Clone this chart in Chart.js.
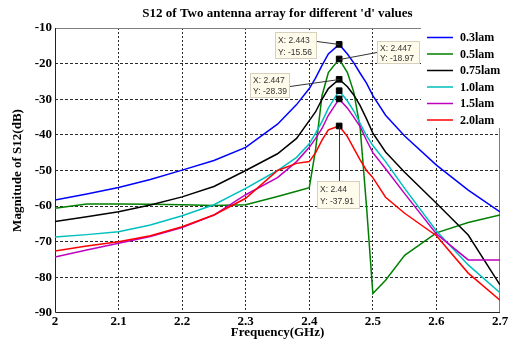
<!DOCTYPE html>
<html lang="en">
<head>
<meta charset="UTF-8">
<title>S12 of Two antenna array</title>
<script src="https://cdn.jsdelivr.net/npm/chart.js"></script>
<style>
  html, body { margin: 0; padding: 0; background: #fff; }
  canvas { display: block; }
</style>
</head>
<body>
<canvas id="s12Chart" width="508" height="339"></canvas>
<script>
// frequency points (GHz) shared by all curves
const freq = [2.0, 2.05, 2.1, 2.15, 2.2, 2.25, 2.3, 2.35, 2.38, 2.4, 2.41, 2.42, 2.43, 2.447,
              2.46, 2.47, 2.48, 2.49, 2.5, 2.52, 2.55, 2.6, 2.65, 2.7];

// |S12| in dB for each spacing
const s12_03 = [-58.3, -56.6, -54.8, -52.5, -49.9, -47.2, -43.5, -37.0, -31.5, -27.0, -24.0, -20.5, -17.3, -14.6,
                -17.3, -19.8, -22.7, -25.5, -29.0, -34.5, -40.3, -48.5, -55.5, -61.6];
const s12_05 = [-60.6, -59.4, -59.4, -59.5, -59.6, -59.8, -59.6, -57.3, -55.8, -54.8, -44.0, -29.0, -22.5, -18.7,
                -22.5, -28.0, -38.0, -60.0, -84.5, -80.8, -73.8, -67.5, -64.6, -62.5];
const s12_075 = [-64.3, -63.0, -61.6, -59.7, -57.4, -54.5, -50.0, -45.3, -41.0, -36.0, -33.5, -30.0, -27.0, -24.4,
                 -26.5, -28.8, -31.8, -35.5, -39.5, -44.8, -50.5, -59.2, -68.1, -82.1];
const s12_10 = [-68.7, -68.0, -67.2, -65.3, -62.7, -59.6, -55.0, -50.0, -46.3, -42.5, -39.5, -36.3, -32.5, -27.6,
                -30.5, -33.3, -36.8, -40.2, -43.0, -47.5, -55.0, -67.0, -76.5, -84.3];
const s12_15 = [-74.3, -72.3, -70.4, -68.5, -66.0, -62.5, -56.8, -52.0, -47.5, -43.5, -41.0, -38.2, -34.5, -29.9,
                -32.5, -35.0, -37.7, -41.5, -45.0, -49.5, -56.5, -67.8, -75.1, -75.1];
const s12_20 = [-72.6, -71.2, -70.0, -68.3, -65.8, -62.5, -57.8, -50.0, -48.0, -47.5, -45.0, -41.5, -38.6, -37.5,
                -40.5, -43.8, -47.0, -50.0, -52.0, -57.5, -62.0, -68.3, -78.8, -86.4];

const seriesLabels = ['0.3lam', '0.5lam', '0.75lam', '1.0lam', '1.5lam', '2.0lam'];
const seriesValues = [s12_03, s12_05, s12_075, s12_10, s12_15, s12_20];
const seriesColors = ['#0000ff', '#008000', '#000000', '#00bfbf', '#bf00bf', '#ff0000'];

// data cursor markers / tips
const peakFreq = 2.447;
const tipSeries = [0, 1, 2, 5];
const tipX = ['2.443', '2.447', '2.447', '2.44'];
const tipY = ['-15.56', '-18.97', '-28.39', '-37.91'];

const xTicks = [2, 2.1, 2.2, 2.3, 2.4, 2.5, 2.6, 2.7];
const yTicks = [-90, -80, -70, -60, -50, -40, -30, -20, -10];

const chartTitle = "S12 of Two antenna array for different 'd' values";
const SERIF = '"Liberation Serif", "Times New Roman", serif';
const SANS = '"Liberation Sans", Arial, sans-serif';

const peakIdx = freq.indexOf(peakFreq);

const datasets = seriesValues.map((vals, i) => ({
  label: seriesLabels[i],
  data: freq.map((f, j) => ({ x: f, y: vals[j] })),
  borderColor: seriesColors[i],
  borderWidth: 1.5,
  tension: 0,
  fill: false,
  order: seriesValues.length - i,
  pointStyle: 'rect',
  pointRadius: vals.map((v, j) => (j === peakIdx ? 4 : 0)),
  pointBackgroundColor: '#000',
  pointBorderColor: '#000',
  pointBorderWidth: 1
}));

// tip boxes: offset from marker, size, and where the leader line attaches
const tipLayout = [
  { dx: -64, dy: -12, w: 42, h: 27, side: 'right', ay: 9 },
  { dx: 38, dy: -18, w: 43, h: 23, side: 'left', ay: 11 },
  { dx: -89, dy: -6, w: 40, h: 25, side: 'right', ay: 13 },
  { dx: -22, dy: 55, w: 43, h: 28, side: 'top', ay: 0 }
];

const overlay = {
  id: 'overlay',
  beforeDatasetsDraw(chart) {
    const { ctx, chartArea: a } = chart;
    ctx.save();
    ctx.lineWidth = 1;
    ctx.strokeStyle = '#808080';
    ctx.beginPath();
    ctx.moveTo(a.left, a.top + 0.5); ctx.lineTo(a.right, a.top + 0.5);
    ctx.moveTo(a.right - 0.5, a.top); ctx.lineTo(a.right - 0.5, a.bottom);
    ctx.stroke();
    ctx.strokeStyle = '#222';
    ctx.beginPath();
    ctx.moveTo(a.left + 0.5, a.top); ctx.lineTo(a.left + 0.5, a.bottom - 0.5);
    ctx.lineTo(a.right, a.bottom - 0.5);
    ctx.stroke();
    ctx.restore();
  },
  afterDatasetsDraw(chart) {
    const { ctx, chartArea: a } = chart;
    const xs = chart.scales.x, ys = chart.scales.y;
    ctx.save();

    // data tips
    tipSeries.forEach((si, k) => {
      const px = Math.round(xs.getPixelForValue(peakFreq));
      const py = Math.round(ys.getPixelForValue(seriesValues[si][peakIdx]));
      const L = tipLayout[k];
      const bx = px + L.dx, by = py + L.dy;
      ctx.strokeStyle = '#333';
      ctx.lineWidth = 1;
      ctx.beginPath();
      ctx.moveTo(px + 0.5, py + 0.5);
      if (L.side === 'right') ctx.lineTo(bx + L.w, by + L.ay + 0.5);
      else if (L.side === 'left') ctx.lineTo(bx, by + L.ay + 0.5);
      else ctx.lineTo(px + 0.5, by);
      ctx.stroke();
      ctx.fillStyle = '#fffbea';
      ctx.fillRect(bx, by, L.w, L.h);
      ctx.strokeStyle = '#d6d0bc';
      ctx.strokeRect(bx + 0.5, by + 0.5, L.w - 1, L.h - 1);
      ctx.fillStyle = '#333';
      ctx.font = '8.5px ' + SANS;
      ctx.textAlign = 'left';
      ctx.textBaseline = 'middle';
      ctx.fillText('X: ' + tipX[k], bx + 3, by + L.h * 0.32);
      ctx.fillText('Y: ' + tipY[k], bx + 3, by + L.h * 0.75);
    });

    // legend
    ctx.fillStyle = '#fff';
    ctx.fillRect(421, 23, 87, 105);
    ctx.font = 'bold 12px ' + SERIF;
    ctx.textAlign = 'left';
    ctx.textBaseline = 'middle';
    seriesLabels.forEach((lab, i) => {
      const y = 37.5 + i * 16.5;
      ctx.strokeStyle = seriesColors[i];
      ctx.lineWidth = 1.5;
      ctx.beginPath();
      ctx.moveTo(427, y); ctx.lineTo(453, y);
      ctx.stroke();
      ctx.fillStyle = '#000';
      ctx.fillText(lab, 460, y + 0.5);
    });

    // title
    ctx.font = 'bold 13px ' + SERIF;
    ctx.textAlign = 'center';
    ctx.fillText(chartTitle, (a.left + a.right) / 2, 14);
    ctx.restore();
  }
};

new Chart(document.getElementById('s12Chart'), {
  type: 'line',
  data: { datasets },
  options: {
    responsive: false,
    animation: false,
    layout: { padding: { top: 28, right: 8, left: 0, bottom: 0 } },
    plugins: { legend: { display: false }, title: { display: false }, tooltip: { enabled: false } },
    scales: {
      x: {
        type: 'linear',
        min: 2,
        max: 2.7,
        afterBuildTicks: s => { s.ticks = xTicks.map(v => ({ value: v })); },
        afterFit: s => { s.height = 26; s.paddingLeft = 0; s.paddingRight = 0; },
        ticks: {
          color: '#000',
          padding: 1,
          maxRotation: 0,
          font: { family: SERIF, size: 13, weight: 'bold' },
          callback: v => String(Number(v.toFixed(1)))
        },
        grid: {
          drawTicks: false,
          color: c => (c.tick && (c.tick.value === 2 || c.tick.value === 2.7)) ? 'rgba(0,0,0,0)' : '#2a2a2a'
        },
        border: { display: false, dash: [2, 2] },
        title: {
          display: true,
          text: 'Frequency(GHz)',
          color: '#000',
          padding: 0,
          font: { family: SERIF, size: 13, weight: 'bold', lineHeight: 1 }
        }
      },
      y: {
        min: -90,
        max: -10,
        afterBuildTicks: s => { s.ticks = yTicks.map(v => ({ value: v })); },
        afterFit: s => { s.width = 55; s.paddingTop = 0; s.paddingBottom = 0; },
        ticks: {
          color: '#000',
          padding: 3,
          font: { family: SERIF, size: 13, weight: 'bold' }
        },
        grid: {
          drawTicks: false,
          color: c => (c.tick && (c.tick.value === -10 || c.tick.value === -90)) ? 'rgba(0,0,0,0)' : '#2a2a2a'
        },
        border: { display: false, dash: [3, 2] },
        title: {
          display: true,
          text: 'Magnitude of S12(dB)',
          color: '#000',
          padding: { top: 10, bottom: 0 },
          font: { family: SERIF, size: 13, weight: 'bold', lineHeight: 1.2 }
        }
      }
    }
  },
  plugins: [overlay]
});
</script>
</body>
</html>
